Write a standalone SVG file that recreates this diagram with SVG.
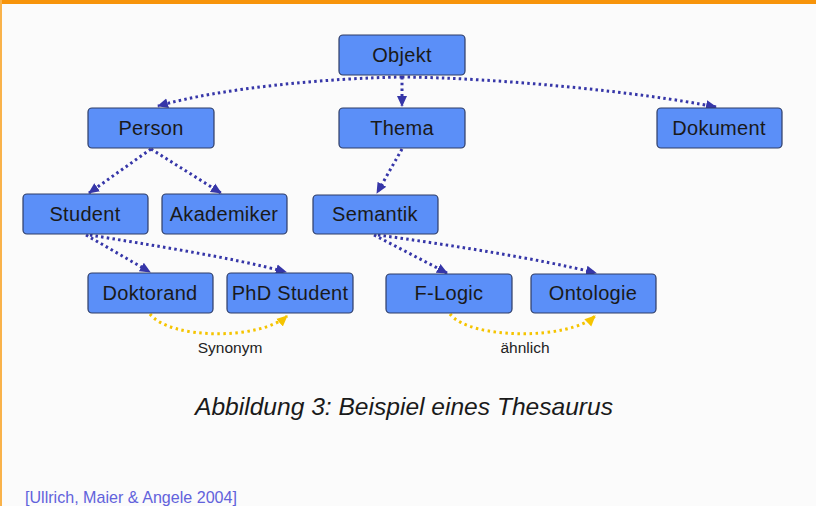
<svg xmlns="http://www.w3.org/2000/svg" width="816" height="506" viewBox="0 0 816 506">
<defs>
<style>
.box{fill:#5b8ff8;stroke:#2f3d66;stroke-width:1.2}
.lbl{font-family:"Liberation Sans",Arial,sans-serif;font-size:20px;letter-spacing:0.3px;fill:#1a1a1a;text-anchor:middle}
.edge{fill:none;stroke:#3636a8;stroke-width:3;stroke-dasharray:2.5 3.2;stroke-linecap:butt}
.rel{fill:none;stroke:#f5c400;stroke-width:3;stroke-dasharray:2.5 3.5}
.rl{font-family:"Liberation Sans",Arial,sans-serif;font-size:15.5px;fill:#222;text-anchor:middle}
</style>
<marker id="ah" markerUnits="userSpaceOnUse" markerWidth="12" markerHeight="12" viewBox="0 0 12 12" refX="10" refY="6" orient="auto">
<path d="M0,1 L11,6 L0,11 Z" fill="#3636a8"/>
</marker>
<marker id="ay" markerUnits="userSpaceOnUse" markerWidth="12" markerHeight="12" viewBox="0 0 12 12" refX="10" refY="6" orient="auto">
<path d="M0,1 L11,6 L0,11 Z" fill="#f5c400"/>
</marker>
</defs>
<rect x="0" y="0" width="816" height="506" fill="#fbfbfb"/>
<rect x="0" y="0" width="816" height="4" fill="#f7940a"/>
<rect x="0" y="0" width="2" height="506" fill="#f9b24a"/>

<g id="connectors">
<path class="edge" d="M402,77 C330,78 220,88 158,106" marker-end="url(#ah)"/>
<path class="edge" d="M402,77 L402,106" marker-end="url(#ah)"/>
<path class="edge" d="M402,77 C500,78 640,92 716,107" marker-end="url(#ah)"/>
<path class="edge" d="M151,149 L89,193" marker-end="url(#ah)"/>
<path class="edge" d="M151,149 L221,193" marker-end="url(#ah)"/>
<path class="edge" d="M402,149 L377,193" marker-end="url(#ah)"/>
<path class="edge" d="M86,235 L150,272" marker-end="url(#ah)"/>
<path class="edge" d="M90,235 C150,245 230,257 286,272" marker-end="url(#ah)"/>
<path class="edge" d="M374,235 L447,273" marker-end="url(#ah)"/>
<path class="edge" d="M378,235 C450,245 540,259 596,273" marker-end="url(#ah)"/>
<path class="rel" d="M150,314 C170,340 260,340 287,316" marker-end="url(#ay)"/>
<path class="rel" d="M450,314 C470,340 570,340 595,316" marker-end="url(#ay)"/>
<text class="rl" x="230" y="353">Synonym</text>
<text class="rl" x="525" y="353">ähnlich</text>
</g>

<g id="objekt"><rect class="box" x="339" y="35" width="126" height="40" rx="4"/><text class="lbl" x="402" y="62">Objekt</text></g>
<g id="person"><rect class="box" x="88" y="108" width="126" height="40" rx="4"/><text class="lbl" x="151" y="135">Person</text></g>
<g id="thema"><rect class="box" x="339" y="108" width="126" height="40" rx="4"/><text class="lbl" x="402" y="135">Thema</text></g>
<g id="dokument"><rect class="box" x="657" y="108" width="125" height="40" rx="4"/><text class="lbl" x="719" y="135">Dokument</text></g>
<g id="student"><rect class="box" x="23" y="194" width="125" height="40" rx="4"/><text class="lbl" x="85" y="221">Student</text></g>
<g id="akademiker"><rect class="box" x="162" y="194" width="125" height="40" rx="4"/><text class="lbl" x="224" y="221">Akademiker</text></g>
<g id="semantik"><rect class="box" x="313" y="195" width="125" height="39" rx="4"/><text class="lbl" x="375" y="221">Semantik</text></g>
<g id="doktorand"><rect class="box" x="88" y="273" width="125" height="40" rx="4"/><text class="lbl" x="150" y="300">Doktorand</text></g>
<g id="phdstudent"><rect class="box" x="227" y="273" width="126" height="40" rx="4"/><text class="lbl" x="290" y="300">PhD Student</text></g>
<g id="flogic"><rect class="box" x="386" y="274" width="126" height="39" rx="4"/><text class="lbl" x="449" y="300">F-Logic</text></g>
<g id="ontologie"><rect class="box" x="531" y="274" width="125" height="39" rx="4"/><text class="lbl" x="593" y="300">Ontologie</text></g>

<text x="195" y="415" font-family="Liberation Sans,Arial,sans-serif" font-size="24" font-style="italic" fill="#1a1a1a" textLength="418" lengthAdjust="spacingAndGlyphs">Abbildung 3: Beispiel eines Thesaurus</text>
<text x="25" y="503" font-family="Liberation Sans,Arial,sans-serif" font-size="17" fill="#6262dc" textLength="212" lengthAdjust="spacingAndGlyphs">[Ullrich, Maier &amp; Angele 2004]</text>
</svg>
